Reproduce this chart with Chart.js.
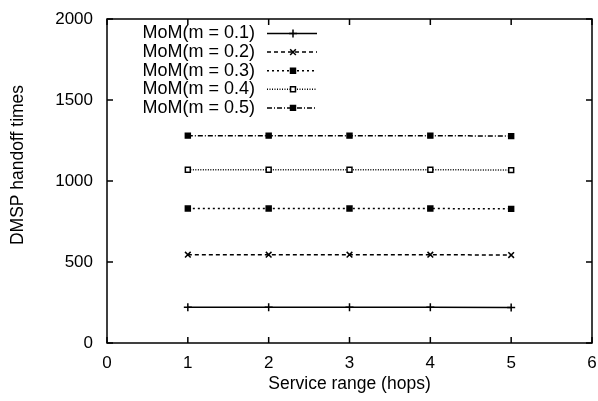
<!DOCTYPE html>
<html><head><meta charset="utf-8">
<script src="https://cdn.jsdelivr.net/npm/chart.js@4.4.1/dist/chart.umd.min.js"></script>
<style>html,body{margin:0;padding:0;background:#fff;}#wrap{width:598px;height:401px;}</style>
</head><body><div id="wrap"><canvas id="c" width="598" height="401"></canvas></div>
<script>
const hops = [1, 2, 3, 4, 5];
const seriesNames = ["MoM(m = 0.1)", "MoM(m = 0.2)", "MoM(m = 0.3)", "MoM(m = 0.4)", "MoM(m = 0.5)"];
const m01 = [220, 220, 220, 220, 219];
const m02 = [545, 545, 545, 545, 543];
const m03 = [830, 830, 830, 830, 828];
const m04 = [1070, 1070, 1070, 1070, 1067];
const m05 = [1280, 1280, 1280, 1280, 1277];
const xTicks = [0, 1, 2, 3, 4, 5, 6];
const yTicks = [0, 500, 1000, 1500, 2000];
const xTitle = 'Service range (hops)';
const yTitle = 'DMSP handoff times';

const FONT = '"Liberation Sans", Arial, sans-serif';
const styles = [
  {dash: [], pt: 'cross', fill: '#000', r: 4},
  {dash: [4, 3], pt: 'crossRot', fill: '#000', r: 4},
  {dash: [2, 3], pt: 'rect', fill: '#000', r: 3.5},
  {dash: [1, 1.5], pt: 'rect', fill: '#fff', r: 3.5},
  {dash: [5, 2, 1, 2], pt: 'rect', fill: '#000', r: 3.5}
];
const allVals = [m01, m02, m03, m04, m05];
const datasets = allVals.map((vals, i) => ({
  label: seriesNames[i],
  data: hops.map((h, j) => ({x: h, y: vals[j]})),
  borderColor: '#000',
  borderWidth: 1.5,
  borderDash: styles[i].dash,
  pointStyle: styles[i].pt,
  pointRadius: styles[i].r,
  pointBorderColor: '#000',
  pointBackgroundColor: styles[i].fill,
  pointBorderWidth: 1.5,
  fill: false,
  tension: 0
}));

const frame = {
  id: 'frame',
  afterDraw(chart) {
    const {ctx, chartArea: a, scales: {x, y}} = chart;
    ctx.save();
    ctx.strokeStyle = '#000';
    ctx.lineWidth = 1.5;
    ctx.setLineDash([]);
    ctx.strokeRect(a.left, a.top, a.right - a.left, a.bottom - a.top);
    const tl = 6;
    ctx.beginPath();
    xTicks.forEach(v => {
      const px = x.getPixelForValue(v);
      ctx.moveTo(px, a.bottom); ctx.lineTo(px, a.bottom - tl);
      ctx.moveTo(px, a.top); ctx.lineTo(px, a.top + tl);
    });
    yTicks.forEach(v => {
      const py = y.getPixelForValue(v);
      ctx.moveTo(a.left, py); ctx.lineTo(a.left + tl, py);
      ctx.moveTo(a.right, py); ctx.lineTo(a.right - tl, py);
    });
    ctx.stroke();
    // y title
    ctx.save();
    ctx.font = '17.5px ' + FONT;
    ctx.fillStyle = '#000';
    ctx.textAlign = 'center';
    ctx.textBaseline = 'middle';
    ctx.translate(18, 165);
    ctx.rotate(-Math.PI / 2);
    ctx.fillText(yTitle, 0, 0);
    ctx.restore();
    // legend
    ctx.font = '18px ' + FONT;
    ctx.fillStyle = '#000';
    ctx.textAlign = 'right';
    ctx.textBaseline = 'middle';
    const textRight = 255, lineL = 267, lineR = 317, top0 = 33.5, step = 18.6;
    datasets.forEach((d, i) => {
      const yy = top0 + i * step;
      ctx.fillText(d.label, textRight, yy);
      ctx.lineWidth = 1.5;
      ctx.setLineDash(styles[i].dash);
      ctx.beginPath(); ctx.moveTo(lineL, yy); ctx.lineTo(lineR, yy); ctx.stroke();
      ctx.setLineDash([]);
      ctx.fillStyle = styles[i].fill;
      Chart.helpers.drawPoint(ctx, {pointStyle: styles[i].pt, radius: styles[i].r, rotation: 0, borderWidth: 1.5}, (lineL + lineR) / 2 + 1, yy);
      ctx.fillStyle = '#000';
    });
    ctx.restore();
  }
};

new Chart(document.getElementById('c'), {
  type: 'line',
  data: {datasets},
  options: {
    responsive: false,
    animation: false,
    devicePixelRatio: 1,
    layout: {padding: {top: 19, right: 6, left: 55, bottom: 0}},
    plugins: {legend: {display: false}, tooltip: {enabled: false}},
    scales: {
      x: {
        type: 'linear', min: 0, max: 6,
        grid: {display: false, drawTicks: false}, border: {display: false},
        afterBuildTicks: s => { s.ticks = xTicks.map(v => ({value: v})); },
        afterFit: s => { s.height = 58; s.paddingLeft = 0; s.paddingRight = 0; },
        ticks: {color: '#000', font: {size: 17, family: FONT}, padding: 10, callback: v => String(v)},
        title: {display: true, text: xTitle, color: '#000', font: {size: 17.5, family: FONT}, padding: {top: 0, bottom: 6}}
      },
      y: {
        type: 'linear', min: 0, max: 2000,
        grid: {display: false, drawTicks: false}, border: {display: false},
        afterBuildTicks: s => { s.ticks = yTicks.map(v => ({value: v})); },
        afterFit: s => { s.width = 52; s.paddingTop = 0; s.paddingBottom = 0; },
        ticks: {color: '#000', font: {size: 17, family: FONT}, padding: 14, callback: v => String(v)}
      }
    }
  },
  plugins: [frame]
});
</script></body></html>
